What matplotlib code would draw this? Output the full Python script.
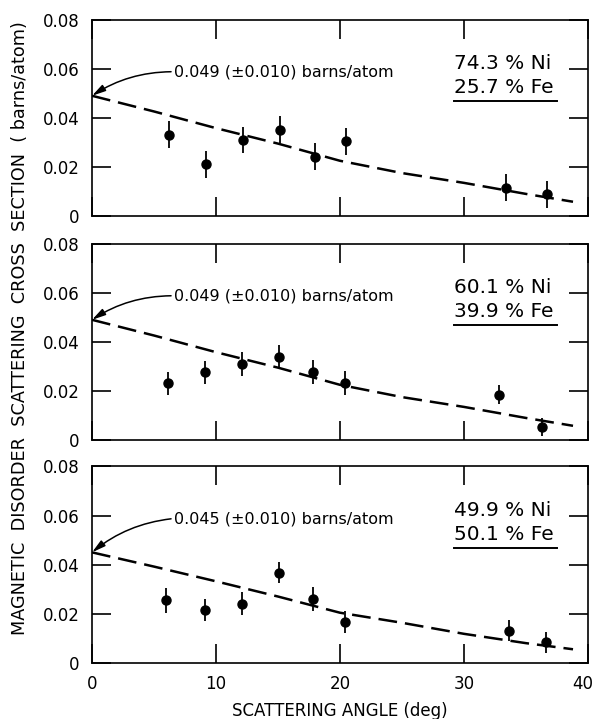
import numpy as np
import matplotlib
matplotlib.use("Agg")
import matplotlib.pyplot as plt
import matplotlib.transforms as mtransforms

# ---- measured points: angle (deg), cross section (barns/atom), error ----
ang_a = [6.2, 9.2, 12.2, 15.2, 18.0, 20.5, 33.4, 36.7]
sig_a = [0.0331, 0.0210, 0.0310, 0.0352, 0.0241, 0.0305, 0.0115, 0.0089]
err_a = [0.0055, 0.0055, 0.0054, 0.0054, 0.0055, 0.0055, 0.0055, 0.0055]

ang_b = [6.1, 9.1, 12.1, 15.1, 17.8, 20.4, 32.8, 36.3]
sig_b = [0.0232, 0.0276, 0.0310, 0.0337, 0.0276, 0.0231, 0.0185, 0.0053]
err_b = [0.0047, 0.0048, 0.0049, 0.0049, 0.0049, 0.0049, 0.0040, 0.0037]

ang_c = [6.0, 9.1, 12.1, 15.1, 17.8, 20.4, 33.6, 36.6]
sig_c = [0.0255, 0.0215, 0.0241, 0.0367, 0.0259, 0.0167, 0.0131, 0.0083]
err_c = [0.0051, 0.0046, 0.0048, 0.0043, 0.0049, 0.0045, 0.0043, 0.0044]

# ---- form-factor curves (dashed) ----
curve_ang = [0, 5, 10, 15, 20, 25, 30, 35, 38.8]
curve_049 = [0.049, 0.0426, 0.0358, 0.0295, 0.0225, 0.0175, 0.0135, 0.0090, 0.0058]
curve_045 = [0.045, 0.0392, 0.0332, 0.0270, 0.0204, 0.0163, 0.0118, 0.0080, 0.0055]

zero_vals = [0.049, 0.049, 0.045]
zero_text = ["0.049 (\u00b10.010) barns/atom",
             "0.049 (\u00b10.010) barns/atom",
             "0.045 (\u00b10.010) barns/atom"]
ni_text = ["74.3 % Ni", "60.1 % Ni", "49.9 % Ni"]
fe_text = ["25.7 % Fe", "39.9 % Fe", "50.1 % Fe"]

panels = [(ang_a, sig_a, err_a, curve_049),
          (ang_b, sig_b, err_b, curve_049),
          (ang_c, sig_c, err_c, curve_045)]

plt.rcParams['font.family'] = ['DejaVu Sans']

fig = plt.figure(figsize=(5.96, 7.19), dpi=100)
left, width = 0.1544, 0.832
bottoms = [0.6996, 0.388, 0.0782]
height = 0.273

for i, (ang, sig, err, curve) in enumerate(panels):
    ax = fig.add_axes([left, bottoms[i], width, height])
    ax.plot(curve_ang, curve, color='black', lw=1.8, dashes=(7.5, 3.2))
    ax.errorbar(ang, sig, yerr=err, fmt='o', color='black', ms=6.5,
                elinewidth=1.3, capsize=0)

    ax.set_xlim(0, 40)
    ax.set_ylim(0, 0.08)
    ax.set_xticks([0, 10, 20, 30, 40])
    ax.set_yticks([0, 0.02, 0.04, 0.06, 0.08])
    ax.set_yticklabels(["0", "0.02", "0.04", "0.06", "0.08"])
    ax.tick_params(direction='in', length=14, width=1.2, top=True, right=True,
                   labelsize=12, pad=9)
    if i < 2:
        ax.set_xticklabels([])
    for s in ax.spines.values():
        s.set_linewidth(1.2)

    ax.annotate(zero_text[i], xy=(0, zero_vals[i]), xytext=(6.6, 0.0588),
                fontsize=11.5, va='center', ha='left',
                arrowprops=dict(arrowstyle='-|>,head_length=0.7,head_width=0.18',
                                color='black', lw=1.1, shrinkA=0, shrinkB=0,
                                relpos=(0, 0.5),
                                connectionstyle='arc3,rad=0.15'))

    ax.text(29.2, 0.0622, ni_text[i], fontsize=14.5, va='center', ha='left')
    ax.text(29.2, 0.0522, fe_text[i], fontsize=14.5, va='center', ha='left')
    ax.plot([29.2, 37.5], [0.0468, 0.0468], color='black', lw=1.4)

ax.set_xlabel("SCATTERING ANGLE (deg)", fontsize=12, labelpad=6)
# nudge the last tick label inward so it stays on the canvas
shift = mtransforms.ScaledTranslation(-5 / 100, 0, fig.dpi_scale_trans)
last = ax.get_xticklabels()[-1]
last.set_transform(last.get_transform() + shift)

fig.text(0.034, 0.544,
         "MAGNETIC  DISORDER  SCATTERING  CROSS  SECTION  ( barns/atom)",
         rotation=90, ha='center', va='center', fontsize=12.7)

fig.savefig("out.png", dpi=100)
